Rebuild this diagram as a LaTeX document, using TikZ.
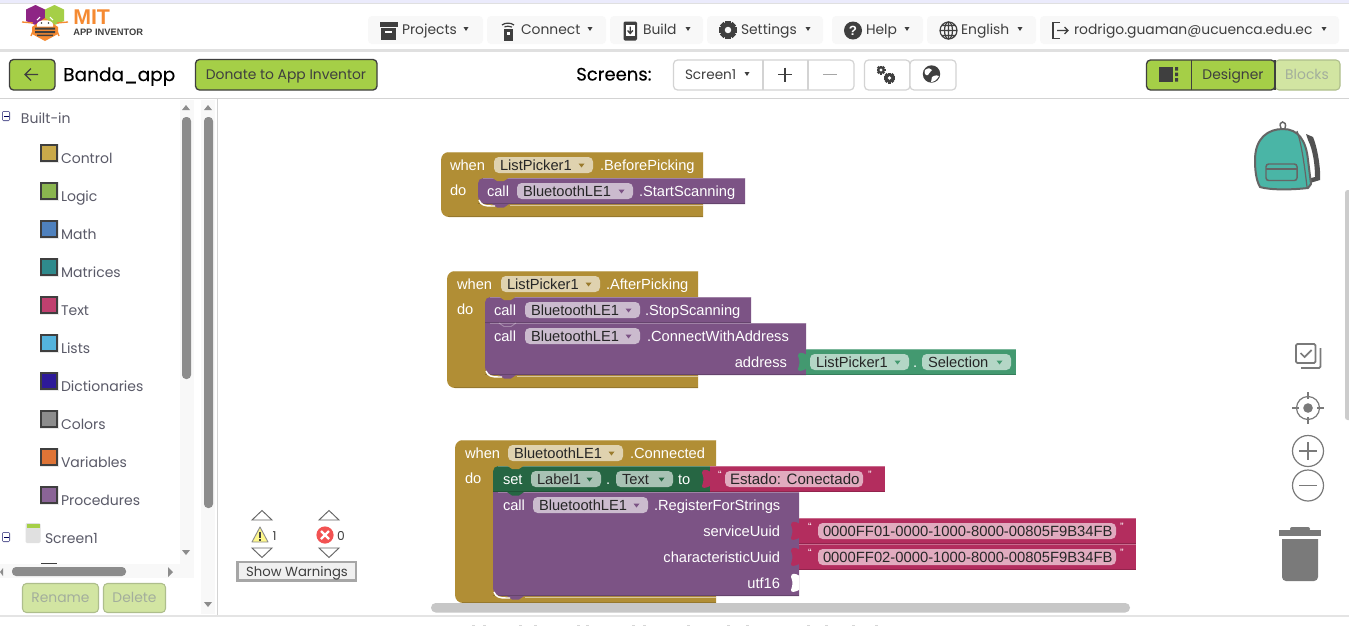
\documentclass[tikz,border=0pt]{standalone}
\usepackage{fontspec}
\setmainfont{Poppins}
\newfontfamily\blkfont{Liberation Sans}
\newfontfamily\popbold[FakeBold=0.35]{Poppins}
\newfontfamily\popmed[FakeBold=0.15]{Poppins}
\newfontfamily\logobold{Liberation Sans Bold}
\definecolor{ctl}{HTML}{B18E35}
\definecolor{ctlf}{HTML}{DFD2AF}
\definecolor{ctld}{HTML}{9A7B2D}
\definecolor{proc}{HTML}{7C5385}
\definecolor{procf}{HTML}{CBBBCE}
\definecolor{val}{HTML}{439970}
\definecolor{valf}{HTML}{B4D6C6}
\definecolor{setc}{HTML}{266643}
\definecolor{setf}{HTML}{A8C2B4}
\definecolor{str}{HTML}{B32D5E}
\definecolor{strf}{HTML}{E1ABBF}
\definecolor{ink}{HTML}{3F3F3F}
\definecolor{catink}{HTML}{5A5A68}
\definecolor{lime}{HTML}{A5CF47}
\definecolor{limel}{HTML}{D2E5A2}
\definecolor{limeb}{HTML}{AEBE8C}
\definecolor{limet}{HTML}{A3AE9C}
\definecolor{navbg}{HTML}{F8F8F8}
\definecolor{rule}{HTML}{D3D3D3}
\definecolor{bar}{HTML}{8C8C8C}
\definecolor{icn}{HTML}{7A7A7A}
\definecolor{org}{HTML}{F58A32}
\definecolor{hexp}{HTML}{8E2585}
\definecolor{bag}{HTML}{4AB5A6}
\definecolor{cC}{HTML}{C9A94A}
\definecolor{cL}{HTML}{8AB54F}
\definecolor{cM}{HTML}{4F81BD}
\definecolor{cX}{HTML}{2F8A8C}
\definecolor{cT}{HTML}{C0406F}
\definecolor{cI}{HTML}{54B3DC}
\definecolor{cD}{HTML}{2D1A99}
\definecolor{cV}{HTML}{DE7436}
\definecolor{cP}{HTML}{8A6496}
\newcount\nn
\tikzset{
  lbl/.code={\global\advance\nn by 1\relax\pgfkeysalso{/tikz/name=n\the\nn}},
  blk/.style={lbl,inner sep=0pt,outer sep=0pt,text=white,font=\blkfont\fontsize{11}{13}\selectfont},
  blkd/.style={lbl,inner sep=0pt,outer sep=0pt,text=black!85,font=\blkfont\fontsize{11}{13}\selectfont},
  ui/.style={lbl,inner sep=0pt,outer sep=0pt,text=ink,font=\fontsize{10.4}{13}\selectfont},
  cat/.style={lbl,inner sep=0pt,outer sep=0pt,text=catink,anchor=base west,font=\fontsize{10.5}{13}\selectfont},
  navbtn/.style={fill=navbg,rounded corners=3pt},
  limebtn/.style={fill=lime,draw=ink,line width=1pt,rounded corners=3pt},
  greybtn/.style={fill=white,draw=rule,line width=.9pt,rounded corners=3pt},
  offbtn/.style={fill=limel,draw=limeb,line width=.8pt,rounded corners=3pt},
}
\newcommand{\bt}[3]{\node[blk,anchor=base west] at (#1,#2) {#3};}
\newcommand{\btr}[3]{\node[blk,anchor=base east] at (#1,#2) {#3};}
\newcommand{\evt}[4]{%
  \fill[ctl] (#3,#2) [rounded corners=6pt] -- (#1,#2) -- (#1,#4) [sharp corners] -- (#3,#4) -- cycle;
  \draw[white,opacity=.3,line width=.7pt] ({#1+7},{#2+.6}) -- (#3,{#2+.6});
  \draw[black,opacity=.15,line width=.7pt] ({#1+7},{#4-.5}) -- (#3,{#4-.5});}
\newcommand{\stm}[7]{%
  \fill[#1] (#4,#3) [rounded corners=#6] -- (#2,#3) [rounded corners=#7] -- (#2,#5) [sharp corners] -- (#4,#5) -- cycle;
  \draw[white,opacity=.28,line width=.7pt] ({#2+5},{#3+.6}) -- (#4,{#3+.6});
  \draw[black,opacity=.18,line width=.7pt] (#2,{#5-.4}) -- (#4,{#5-.4});}
\newcommand{\bump}[3]{\fill[#1] ({#2+14},#3) -- ({#2+19},{#3+3.5}) -- ({#2+26},{#3+3.5}) -- ({#2+31},#3) -- cycle;}
\newcommand{\chev}[2]{\draw[white,opacity=.3,line width=.7pt] ({#1+14},#2) -- ({#1+19},{#2+3.5}) -- ({#1+26},{#2+3.5}) -- ({#1+31},#2);}
\newcommand{\tab}[3]{\fill[#1] (#2,{#3+5.5}) .. controls ({#2-4},{#3+3}) and ({#2-8},{#3+3}) .. ({#2-8},{#3+7}) .. controls ({#2-6},{#3+12}) and ({#2-6},{#3+14}) .. ({#2-8},{#3+20}) .. controls ({#2-8},{#3+23}) and ({#2-4},{#3+22}) .. (#2,{#3+20}) -- cycle;}
\newcommand{\fld}[6]{%
  \fill[#4,rounded corners=3.5pt] (#1,#2) rectangle (#3,{#2+16});
  \node[blkd,anchor=base west] at ({#1+6},{#2+13}) {#5};
  \fill[#6] ({#3-14.5},{#2+6.5}) -- ({#3-8.5},{#2+6.5}) -- ({#3-11.5},{#2+10.5}) -- cycle;}
\newcommand{\sfld}[4]{%
  \fill[strf,rounded corners=3.5pt] (#1,#2) rectangle (#3,{#2+16});
  \node[blkd,anchor=base west] at ({#1+5},{#2+13}) {#4};}
\newcommand{\nav}[5]{%
  \fill[navbtn] (#1,16) rectangle (#2,44);
  \node[ui,anchor=base west] at (#3,34.5) {#4};
  \caret{#5}{29}}
\newcommand{\caret}[2]{\fill[ink] ({#1-2.5},{#2-2}) -- ({#1+2.5},{#2-2}) -- (#1,{#2+2}) -- cycle;}
\newcommand{\gear}[5]{%
  \foreach \a in {0,45,...,315}{\draw[#4,line width={#3*0.42pt},shift={(#1,#2)}] (\a:{#3*0.6}) -- (\a:{#3});}
  \fill[#4] (#1,#2) circle ({#3*0.78});
  \fill[#5] (#1,#2) circle ({#3*0.36});}
\newcommand{\catrow}[4]{%
  \fill[#2!12!white] (39.5,{#3-1}) rectangle (58.5,{#3+18});
  \draw[#2,fill=#1,line width=.9pt] (41,#3) rectangle (57,{#3+16});
  \node[cat] at (61,{#3+18}) {#4};}
\begin{document}
\begin{tikzpicture}[x=0.75pt,y=-0.75pt]
\useasboundingbox (0,0) rectangle (1349,626);
\fill[white] (0,0) rectangle (1349,626);
\fill[black!12!blue!8!white] (0,0) rectangle (1349,3);
\fill[rule!70!white] (0,3) rectangle (1349,3.6);
\fill[rule!70!white] (0,49) rectangle (1349,52);
\fill[rule] (0,98) rectangle (1349,99.2);
\fill[rule] (216.5,99) rectangle (218,615);
\fill[rule!60!white] (0,614.5) rectangle (1349,616.5);
% logo
\fill[hexp] (26,9.5) -- (35.5,5) -- (45,9.5) -- (45,21) -- (35.5,25) -- (26,21) -- cycle;
\fill[lime] (45,9.5) -- (54.5,5) -- (64,9.5) -- (64,21) -- (54.5,25) -- (45,21) -- cycle;
\fill[org] (32,27) -- (45,18) -- (58,27) -- (58,34) -- (45,41) -- (32,34) -- cycle;
\fill[white] (37,24) .. controls (38,19) and (52,19) .. (53,24) -- (53,26.5) -- (37,26.5) -- cycle;
\fill[ink] (41.5,23) circle (.9) (48.5,23) circle (.9);
\fill[ink] (35,27.5) rectangle (55,29.5) (35,31) rectangle (55,33) (37,34.5) rectangle (53,36);
\draw[white,line width=.8pt] (37,20) -- (40,17) (53,20) -- (50,17);
\draw[org,line width=1pt] (22,22) -- (33,23) (68,22) -- (57,23) (33,31) -- (31,36) (57,31) -- (59,36);
\node[lbl,inner sep=0pt,anchor=base west,text=org,font=\logobold\fontsize{16}{16}\selectfont] at (73,24) {MIT};
\node[lbl,inner sep=0pt,anchor=base west,text=ink,font=\logobold\fontsize{7}{9}\selectfont] at (73,35.5) {APP INVENTOR};
% nav bar
\nav{368}{483}{402}{Projects}{466}
\nav{487}{606}{521}{Connect}{590}
\nav{610}{703}{643}{Build}{688}
\nav{707}{823}{741}{Settings}{808}
\nav{832}{923}{866}{Help}{907}
\nav{927}{1036}{961}{English}{1020}
\nav{1040}{1339}{1074}{rodrigo.guaman@ucuenca.edu.ec}{1324}
\fill[ink] (379.5,22) rectangle (397.5,27);
\fill[ink] (381,28) rectangle (396,40);
\fill[white] (385,31) rectangle (392,33);
\fill[ink] (503.5,29) rectangle (513,41);
\fill[white] (507,32) rectangle (509.5,34.5);
\draw[ink,line width=.9pt] (502,25) .. controls (505,22.5) and (511,22.5) .. (514,25);
\draw[ink,line width=.9pt] (504.5,27) .. controls (506,26) and (510,26) .. (512,27);
\fill[ink,rounded corners=1pt] (623.5,21.5) rectangle (637,40.5);
\fill[white] (625.5,25) rectangle (635,36);
\draw[ink,line width=1pt] (630.2,26.5) -- (630.2,33) (627.6,30.5) -- (630.2,33.5) -- (632.8,30.5);
\gear{728}{30}{9}{ink}{navbg}
\fill[ink] (853,30.5) circle (9);
\node[lbl,inner sep=0pt,text=white,font=\blkfont\bfseries\fontsize{10}{12}\selectfont] at (853,30.5) {?};
\draw[ink,line width=.9pt] (948.5,30.5) circle (8.5) (948.5,22) -- (948.5,39) (940,30.5) -- (957,30.5) (941.5,25.5) -- (955.5,25.5) (941.5,35.5) -- (955.5,35.5);
\draw[ink,line width=.9pt] (948.5,30.5) ellipse (4 and 8.5);
\draw[ink,line width=.9pt] (1060,22.5) -- (1053,22.5) -- (1053,38.5) -- (1060,38.5);
\draw[ink,line width=.9pt] (1057,30.5) -- (1068,30.5) (1064.5,27) -- (1068,30.5) -- (1064.5,34);
% second row
\draw[limebtn] (9.5,59.5) rectangle (55,90);
\draw[ink,line width=1pt] (25,74.5) -- (38,74.5) (31,68.5) -- (25,74.5) -- (31,80.5);
\node[lbl,inner sep=0pt,anchor=base west,text=black,font=\popmed\fontsize{13.9}{16}\selectfont] at (63,81) {Banda\_app};
\draw[limebtn] (195.5,59.5) rectangle (377,90);
\node[ui,anchor=base] at (286,79) {Donate to App Inventor};
\node[lbl,inner sep=0pt,anchor=base west,text=black,font=\popmed\fontsize{13.5}{15}\selectfont] at (576,80.5) {Screens:};
\draw[greybtn] (673.5,60) rectangle (854,90);
\draw[rule,line width=.8pt] (763,60) -- (763,90) (808,60) -- (808,90);
\node[ui,anchor=base west,font=\fontsize{10.2}{12}\selectfont] at (685,79) {Screen1};
\caret{747}{74}
\draw[ink,line width=1pt] (778,74.5) -- (792,74.5) (785,67.5) -- (785,81.5);
\draw[black!35,line width=1pt] (823,74.5) -- (837,74.5);
\draw[greybtn] (864.5,60) rectangle (910,90);
\draw[greybtn] (910,60) rectangle (956,90);
\gear{881}{70}{4.5}{ink}{white}
\gear{889.5}{78}{5.5}{ink}{white}
\fill[ink] (931.5,74) circle (8.7);
\fill[white] (925,70) .. controls (928,67.5) and (931,68) .. (932,70) .. controls (931,73) and (928,72.5) .. (928,75) .. controls (925,76) and (924,73) .. (925,70) -- cycle;
\fill[white] (932,77) .. controls (935,75) and (938,75) .. (939,76) .. controls (937,80) and (934,82) .. (931,82) -- cycle;
\draw[limebtn] (1146.5,60) rectangle (1275,90);
\draw[ink,line width=.9pt] (1191.5,60) -- (1191.5,90);
\fill[ink] (1159,67) rectangle (1172.5,81.5);
\fill[ink] (1175,67) rectangle (1178,70.5) (1175,72.5) rectangle (1178,76) (1175,78) rectangle (1178,81.5);
\node[ui,anchor=base] at (1233,79) {Designer};
\draw[offbtn] (1275,60) rectangle (1340,90);
\draw[ink,line width=1pt] (1275,60) -- (1275,90);
\node[ui,anchor=base,text=limet] at (1307,79) {Blocks};
% palette tree
\fill[blue!35!black!60!white,rounded corners=1pt] (2,111) rectangle (10,121);
\fill[white] (3,112) rectangle (9,120);
\fill[blue!35!black] (3.5,115.5) rectangle (8.5,116.7);
\node[cat] at (21,123) {Built-in};
\catrow{cC}{ink}{145}{Control}
\catrow{cL}{ink}{183}{Logic}
\catrow{cM}{ink}{221}{Math}
\catrow{cX}{ink}{259}{Matrices}
\catrow{cT}{ink}{297}{Text}
\catrow{cI}{ink}{335}{Lists}
\catrow{cD}{ink}{373}{Dictionaries}
\catrow{bar}{ink}{411}{Colors}
\catrow{cV}{ink}{449}{Variables}
\catrow{cP}{ink}{487}{Procedures}
\fill[blue!35!black!60!white,rounded corners=1pt] (2,532) rectangle (10,542);
\fill[white] (3,533) rectangle (9,541);
\fill[blue!35!black] (3.5,536.5) rectangle (8.5,537.7);
\fill[rule!70!white,rounded corners=1pt] (25.5,523) rectangle (40.5,543);
\fill[lime] (26.5,523.5) rectangle (39.5,527.5);
\fill[black!12] (27,527.5) rectangle (39,542);
\node[cat] at (45,543) {Screen1};
\fill[ink] (41,563) rectangle (57,564);
% palette scrollbars
\fill[navbg] (180,100) rectangle (194,564);
\fill[navbg] (201,100) rectangle (215,614);
\fill[navbg] (0,564) rectangle (194,578);
\fill[white] (0,578) rectangle (201,614);
\fill[bar,rounded corners=3pt] (182,117) rectangle (191,379);
\fill[bar,rounded corners=3pt] (204,117) rectangle (213,508);
\fill[bar,rounded corners=3pt] (12,567) rectangle (126,576);
\fill[bar] (182,110) -- (190,110) -- (186,105) -- cycle;
\fill[bar] (204,110) -- (212,110) -- (208,105) -- cycle;
\fill[bar] (182,550) -- (190,550) -- (186,555) -- cycle;
\fill[bar] (204,602) -- (212,602) -- (208,607) -- cycle;
\fill[bar] (3,568) -- (3,576) -- (0,572) -- cycle;
\fill[bar] (168,567) -- (168,577) -- (173,572) -- cycle;
\draw[offbtn] (22.5,583.5) rectangle (98.5,612.5);
\node[ui,anchor=base,text=limet] at (60.5,602) {Rename};
\draw[offbtn] (103.5,583.5) rectangle (165.5,612.5);
\node[ui,anchor=base,text=limet] at (134.5,602) {Delete};
% warnings
\draw[ink!80,fill=white,line width=.7pt] (252,520) -- (262,510.5) -- (272,520) -- cycle;
\draw[ink!80,fill=white,line width=.7pt] (319,520) -- (329,510.5) -- (339,520) -- cycle;
\draw[ink!80,fill=white,line width=.7pt] (252,548) -- (262,557.5) -- (272,548) -- cycle;
\draw[ink!80,fill=white,line width=.7pt] (319,548) -- (329,557.5) -- (339,548) -- cycle;
\draw[black!45,fill=yellow!45!white,line width=.7pt,line join=round] (252,542) -- (260,527) -- (268,542) -- cycle;
\draw[ink,line width=.9pt] (260,531.5) -- (260,537.5) (260,539) -- (260,540.5);
\node[ui,anchor=base west,font=\fontsize{9.2}{11}\selectfont] at (272.5,540) {1};
\fill[red!55!pink!95!black] (325,535) circle (8.6);
\draw[white,line width=1.7pt] (321,531) -- (329,539) (329,531) -- (321,539);
\node[ui,anchor=base west,font=\fontsize{9.2}{11}\selectfont] at (337,540) {0};
\draw[black!35,fill=black!6,line width=2.2pt] (237.5,562) rectangle (356,580.5);
\node[ui,anchor=base,font=\fontsize{9.9}{12}\selectfont] at (297,576) {Show Warnings};
% ---------- block 1
\evt{441}{152}{703}{217}
\stm{proc}{478}{178}{745}{204}{4pt}{6pt}
\bump{ctl}{478}{177.5}
\bump{proc}{478}{204}
\draw[white,line width=1.1pt] (479,200) .. controls (481,205) and (484,206) .. (492,206) -- (495,206);
\draw[white,opacity=.5,line width=.7pt] (510,205.3) -- (703,205.3);
\bt{450}{170}{when}
\fld{494}{157}{593}{ctlf}{ListPicker1}{ctld}
\bt{600}{170}{.BeforePicking}
\bt{450}{195}{do}
\bt{487}{196}{call}
\fld{517}{183}{633}{procf}{BluetoothLE1}{proc}
\bt{639}{196}{.StartScanning}
% ---------- block 2
\evt{447}{271}{698}{388}
\stm{proc}{485}{297}{751}{323}{4pt}{0pt}
\stm{proc}{485}{323}{806}{375}{0pt}{6pt}
\bump{ctl}{485}{296.5}
\chev{485}{323}
\bump{proc}{485}{375}
\draw[white,line width=1.1pt] (486,371) .. controls (488,376) and (491,377) .. (499,377) -- (502,377);
\draw[white,opacity=.5,line width=.7pt] (517,376.3) -- (698,376.3);
\fill[val] (806,349) rectangle (1016,375);
\draw[white,opacity=.3,line width=.7pt] (806,349.6) -- (1016,349.6);
\draw[black,opacity=.18,line width=.7pt] (806,374.6) -- (1016,374.6);
\tab{val}{806}{349}
\bt{457}{289}{when}
\fld{501}{276}{600}{ctlf}{ListPicker1}{ctld}
\bt{606}{289}{.AfterPicking}
\bt{457}{314}{do}
\bt{494}{315}{call}
\fld{525}{302}{640}{procf}{BluetoothLE1}{proc}
\bt{645}{315}{.StopScanning}
\bt{494}{341}{call}
\fld{525}{328}{640}{procf}{BluetoothLE1}{proc}
\bt{647}{341}{.ConnectWithAddress}
\btr{787}{367}{address}
\fld{810}{354}{909}{valf}{ListPicker1}{val}
\bt{913}{367}{.}
\fld{922}{354}{1011}{valf}{Selection}{val}
% ---------- block 3
\evt{455}{440}{716}{603}
\stm{setc}{493}{466}{710}{492}{4pt}{0pt}
\bump{ctl}{493}{465.5}
\stm{proc}{493}{492}{799}{596}{0pt}{6pt}
\bump{setc}{493}{492}
\bump{proc}{493}{596}
\draw[white,line width=1.1pt] (494,592) .. controls (496,597) and (499,598) .. (507,598) -- (510,598);
\draw[white,opacity=.5,line width=.7pt] (525,597.3) -- (716,597.3);
\fill[str] (710,466) rectangle (885,492);
\draw[white,opacity=.3,line width=.7pt] (710,466.6) -- (885,466.6);
\draw[black,opacity=.18,line width=.7pt] (710,491.6) -- (885,491.6);
\tab{str}{710}{466}
\fill[str] (799,518) rectangle (1136,570);
\draw[white,opacity=.3,line width=.7pt] (799,518.6) -- (1136,518.6) (799,544.6) -- (1136,544.6);
\draw[black,opacity=.18,line width=.7pt] (799,543.6) -- (1136,543.6) (799,569.6) -- (1136,569.6);
\tab{str}{799}{518}
\tab{str}{799}{544}
\tab{white}{799}{570}
\bt{465}{458}{when}
\fld{508}{445}{623}{ctlf}{BluetoothLE1}{ctld}
\bt{630}{458}{.Connected}
\bt{465}{483}{do}
\bt{503}{484}{set}
\fld{531}{471}{601}{setf}{Label1}{setc}
\bt{606}{484}{.}
\fld{616}{471}{673}{setf}{Text}{setc}
\bt{678}{484}{to}
\bt{718}{478}{\fontsize{8}{8}\selectfont “}
\sfld{725}{471}{863}{\fontsize{11.3}{13}\selectfont Estado: Conectado}
\bt{868}{478}{\fontsize{8}{8}\selectfont ”}
\bt{503}{510}{call}
\fld{533}{497}{648}{procf}{BluetoothLE1}{proc}
\bt{654}{510}{.RegisterForStrings}
\btr{780}{536}{serviceUuid}
\bt{808}{530}{\fontsize{8}{8}\selectfont “}
\sfld{818}{523}{1116}{\fontsize{11.1}{13}\selectfont 0000FF01-0000-1000-8000-00805F9B34FB}
\bt{1120}{530}{\fontsize{8}{8}\selectfont ”}
\btr{780}{562}{characteristicUuid}
\bt{808}{556}{\fontsize{8}{8}\selectfont “}
\sfld{818}{549}{1116}{\fontsize{11.1}{13}\selectfont 0000FF02-0000-1000-8000-00805F9B34FB}
\bt{1120}{556}{\fontsize{8}{8}\selectfont ”}
\btr{780}{588}{utf16}
% workspace scrollbars
\fill[white] (455,603) rectangle (800,614.5);
\fill[black!22,rounded corners=3.5pt] (431,603) rectangle (1130,612.5);
\fill[black!20,rounded corners=2pt] (1345,190) rectangle (1352,420);
% backpack
\draw[ink!80,line width=1.1pt] (1281,128) .. controls (1277,120) and (1288,120) .. (1285,128);
\fill[ink!90] (1306,134) -- (1313,137) .. controls (1317,146) and (1321,168) .. (1320,180) -- (1310,183) -- (1311,178) -- (1315,177) .. controls (1315,165) and (1313,150) .. (1308,140) -- cycle;
\draw[ink!80,fill=bag,line width=1.5pt,line join=round] (1255,160) .. controls (1255,138) and (1268,129) .. (1283,129) .. controls (1298,129) and (1306,140) .. (1308,160) -- (1311,184) -- (1308,188) .. controls (1290,190) and (1270,190) .. (1260,187) .. controls (1256,180) and (1255,170) .. (1255,160) -- cycle;
\draw[ink!80,line width=.9pt] (1297,131) .. controls (1302,145) and (1305,170) .. (1307,187);
\draw[ink!80,line width=1.1pt,rounded corners=2pt] (1266,164) rectangle (1297,180.5);
\draw[ink!80,line width=.8pt] (1266,169) -- (1297,169);
% checklist icon
\draw[icn,line width=1.3pt,rounded corners=1pt] (1296,344) rectangle (1315.5,363);
\draw[icn,line width=1.3pt,rounded corners=1pt] (1320.5,348) -- (1320.5,368) -- (1301,368);
\draw[icn,line width=1.3pt] (1300.5,353) -- (1304.5,357) -- (1311.5,350);
% centre icon
\draw[icn,line width=.9pt] (1308,408) circle (11.5);
\fill[icn] (1308,408) circle (4.8);
\draw[icn,line width=.9pt] (1308,392) -- (1308,399) (1308,417) -- (1308,424) (1292,408) -- (1299,408) (1317,408) -- (1324,408);
% zoom icons
\draw[icn,line width=.9pt] (1308,451) circle (15.5) (1308,485.5) circle (15.5);
\draw[icn,line width=1pt] (1299,451) -- (1317,451) (1308,442) -- (1308,460) (1299,485.5) -- (1317,485.5);
% trash
\fill[icn] (1279,530) rectangle (1321,536);
\fill[icn,rounded corners=1.5pt] (1290,527) rectangle (1310,531);
\fill[icn] (1282,539) [rounded corners=3pt] -- (1282,581) -- (1318,581) [sharp corners] -- (1318,539) -- cycle;
% clipped footer marks
\foreach \x in {472,483,519,534,577,586,632,643,687,727,746,807,825,852,875}{\fill[black!16] (\x,625) rectangle ({\x+3},626);}
\end{tikzpicture}
\end{document}
